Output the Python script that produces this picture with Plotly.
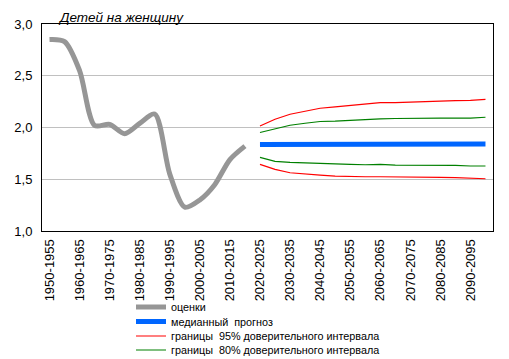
import plotly.graph_objects as go

periods = [f"{y}-{y+5}" for y in range(1950, 2100, 5)]
tick_labels = periods[::2]

estimates = [2.85, 2.83, 2.55, 2.02, 2.03, 1.94, 2.04, 2.13, 1.55, 1.23, 1.30, 1.45, 1.69, 1.82]
median = [1.835, 1.835, 1.835, 1.835, 1.84, 1.84, 1.84, 1.84, 1.84, 1.84, 1.84, 1.84, 1.84, 1.84, 1.84, 1.84]
upper95 = [2.015, 2.08, 2.128, 2.16, 2.186, 2.20, 2.214, 2.227, 2.24, 2.24, 2.246, 2.253, 2.256, 2.26, 2.263, 2.272]
lower95 = [1.644, 1.595, 1.563, 1.549, 1.54, 1.53, 1.524, 1.524, 1.524, 1.524, 1.524, 1.518, 1.518, 1.515, 1.508, 1.505]
upper80 = [1.952, 1.99, 2.022, 2.041, 2.058, 2.061, 2.07, 2.077, 2.083, 2.087, 2.09, 2.09, 2.09, 2.09, 2.09, 2.099]
lower80 = [1.712, 1.673, 1.663, 1.657, 1.65, 1.647, 1.644, 1.64, 1.644, 1.637, 1.637, 1.634, 1.634, 1.634, 1.628, 1.628]

names = ["оценки", "медианный\u00a0 прогноз",
         "границы\u00a0 95% доверительного интервала",
         "границы\u00a0 80% доверительного интервала"]

est_x = periods[:len(estimates)]
fc_x = periods[len(estimates):]

FONT = "Liberation Sans, Arial, sans-serif"
fig = go.Figure()
fig.add_trace(go.Scatter(x=est_x, y=estimates, mode="lines", name=names[0],
                         line=dict(color="#969696", width=5, shape="spline", smoothing=0.8),
                         legend="legend"))
fig.add_trace(go.Scatter(x=fc_x, y=median, mode="lines", name=names[1],
                         line=dict(color="#0066ff", width=5), legend="legend2"))
fig.add_trace(go.Scatter(x=fc_x, y=upper95, mode="lines", name=names[2],
                         line=dict(color="#ff0000", width=1.2), legend="legend3"))
fig.add_trace(go.Scatter(x=fc_x, y=lower95, mode="lines", showlegend=False,
                         line=dict(color="#ff0000", width=1.2)))
fig.add_trace(go.Scatter(x=fc_x, y=upper80, mode="lines", name=names[3],
                         line=dict(color="#008000", width=1.2), legend="legend4"))
fig.add_trace(go.Scatter(x=fc_x, y=lower80, mode="lines", showlegend=False,
                         line=dict(color="#008000", width=1.2)))

# the page body has an 8px margin: the figure is sized/offset to compensate
OFF = 8
W, H = 509 - OFF, 359 - OFF
L, R, T, B = 42 - OFF, 15.5, 24 - OFF, 128

legend_rows = [307, 321.5, 336, 350]
legs = {}
for i, yp in enumerate(legend_rows):
    key = "legend" if i == 0 else f"legend{i+1}"
    legs[key] = dict(x=(131 - OFF) / W, y=1 - (yp - OFF) / H, xref="container", yref="container",
                     xanchor="left", yanchor="middle",
                     font=dict(family=FONT, size=10.8, color="#000"),
                     bgcolor="rgba(0,0,0,0)", borderwidth=0,
                     tracegroupgap=0, itemwidth=30)

fig.update_layout(
    template="none",
    width=W, height=H,
    margin=dict(l=L, r=R, t=T, b=B, pad=0, autoexpand=False),
    plot_bgcolor="white", paper_bgcolor="white",
    font=dict(family=FONT, size=13, color="#000"),
    showlegend=True,
    **legs,
    xaxis=dict(type="category", categoryorder="array", categoryarray=periods,
               range=[-0.5, len(periods) - 0.5], automargin=False,
               tickmode="array", tickvals=tick_labels, ticktext=tick_labels,
               tickangle=-90, showgrid=False, showline=True, linecolor="#000",
               linewidth=1, mirror=True, ticks="", ticklabelstandoff=2,
               tickfont=dict(family=FONT, size=13, color="#000")),
    yaxis=dict(range=[1.0, 3.0], tickvals=[1.0, 1.5, 2.0, 2.5, 3.0],
               ticktext=["1,0", "1,5", "2,0", "2,5", "3,0"], automargin=False,
               showgrid=True, gridcolor="#c0c0c0", gridwidth=1,
               showline=True, linecolor="#000", linewidth=1, mirror=True,
               zeroline=False, ticks="", ticklabelstandoff=6,
               tickfont=dict(family=FONT, size=13, color="#000")),
    annotations=[dict(text="<i>Детей на женщину</i>", xref="paper", yref="paper",
                      x=(56 - 42) / (W - L - R), y=(231 - 17) / (231 - 24),
                      xanchor="left", yanchor="middle",
                      showarrow=False, font=dict(family=FONT, size=13.5, color="#000"))],
)

fig.write_html("out.html")
